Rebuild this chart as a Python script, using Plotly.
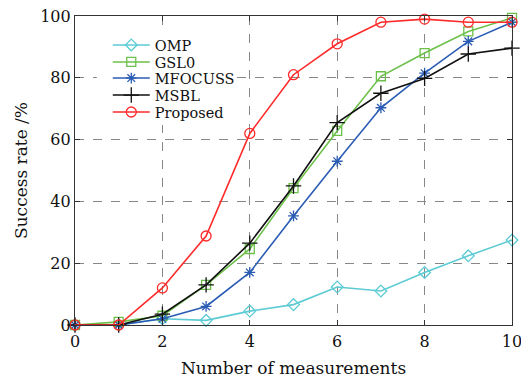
import plotly.graph_objects as go

x = [0, 1, 2, 3, 4, 5, 6, 7, 8, 9, 10]
omp = [0, 0, 2, 1.5, 4.5, 6.6, 12.3, 11, 17, 22.4, 27.5]
gsl0 = [0, 1, 3, 13, 24.6, 44.3, 62.8, 80.5, 88, 95, 99.4]
mfocuss = [0, 0, 2, 6, 17, 35.3, 53, 70.3, 81.5, 91.8, 98]
msbl = [0, 0, 3.5, 13, 26.5, 45, 65.5, 75, 79.8, 87.7, 89.6]
proposed = [0, 0, 12, 28.8, 62, 81, 91, 98, 99, 98, 98]

series = [
    ("OMP", omp, "#5ccbd4", "diamond-open", 9),
    ("GSL0", gsl0, "#6cc04a", "square-open", 9),
    ("MFOCUSS", mfocuss, "#2a5cb4", "asterisk-open", 9),
    ("MSBL", msbl, "#111111", "cross-thin-open", 11),
    ("Proposed", proposed, "#ff2a2a", "circle-open", 10),
]
legend_y = [0.906, 0.851, 0.799, 0.744, 0.689]

font = "DejaVu Serif, Liberation Serif, serif"
fig = go.Figure()
layout_legends = {}
for i, (name, y, c, sym, sz) in enumerate(series):
    lg = "legend" if i == 0 else f"legend{i+1}"
    fig.add_trace(go.Scatter(
        x=x, y=y, name=name, mode="lines+markers",
        line=dict(color=c, width=1.6),
        marker=dict(symbol=sym, size=sz, color=c, line=dict(color=c, width=1.3)),
        cliponaxis=False, legend=lg,
    ))
    layout_legends[lg] = dict(x=0.075, y=legend_y[i], xanchor="left", yanchor="middle",
                              bgcolor="rgba(0,0,0,0)", borderwidth=0,
                              font=dict(size=14.5, family=font, color="#111"),
                              itemwidth=37)

fig.update_layout(
    width=521, height=378,
    margin=dict(l=75, r=9, t=16, b=53, autoexpand=False),
    paper_bgcolor="white", plot_bgcolor="white",
    font=dict(family=font, size=16, color="#111"),
    showlegend=True,
    shapes=[dict(type="rect", xref="paper", yref="paper",
                 x0=0.05, x1=0.365, y0=0.647, y1=0.945,
                 fillcolor="white", line=dict(width=0), layer="above")],
    **layout_legends,
)
axis_common = dict(
    showline=True, linecolor="#333", linewidth=1.2, mirror="ticks",
    ticks="inside", ticklen=5, tickcolor="#333",
    showgrid=True, gridcolor="#888", griddash="dash", gridwidth=1,
    zeroline=False, tickfont=dict(size=16, family=font),
    ticklabeloverflow="allow", automargin=False,
)
fig.update_xaxes(range=[0, 10], tickvals=[0, 2, 4, 6, 8, 10],
                 title=dict(text="Number of measurements", font=dict(size=17), standoff=16),
                 ticklabelstandoff=2,
                 **axis_common)
fig.update_yaxes(range=[0, 100], tickvals=[0, 20, 40, 60, 80, 100],
                 title=dict(text="Success rate /%", font=dict(size=17), standoff=8),
                 **axis_common)

fig.write_html("out.html")
